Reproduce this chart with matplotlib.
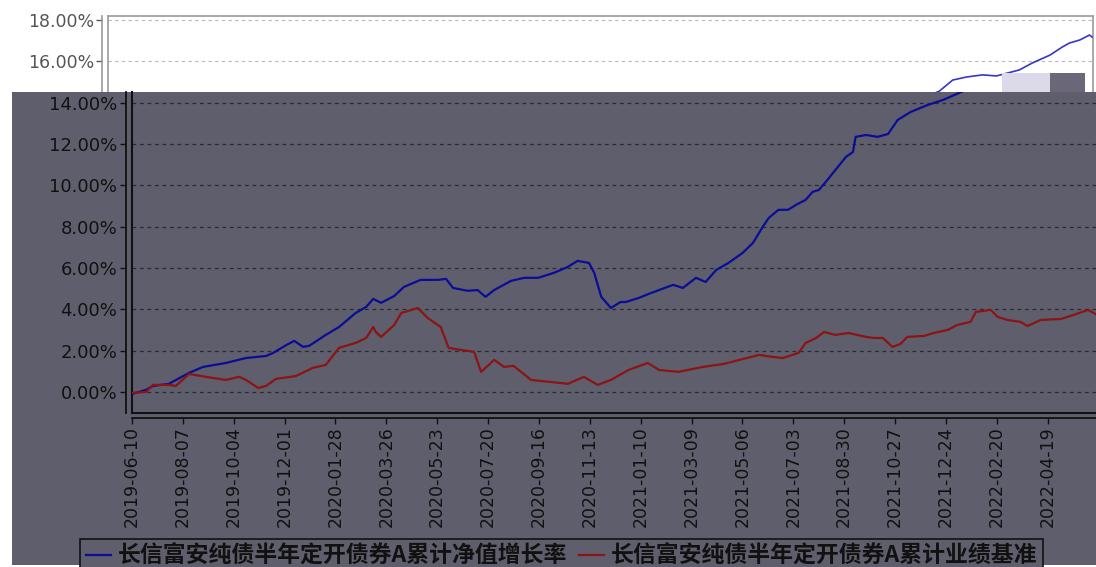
import matplotlib
matplotlib.use("Agg")
import matplotlib.pyplot as plt
import matplotlib.dates as mdates
from matplotlib.patches import Rectangle
from matplotlib.lines import Line2D
import pandas as pd

plt.rcParams['font.family'] = ['DejaVu Sans', 'Noto Sans CJK SC']

# ---------------- data ----------------
nav_dates = ["2019-06-10", "2019-06-26", "2019-07-04", "2019-07-22", "2019-08-14", "2019-08-30",
             "2019-09-25", "2019-10-18", "2019-11-10", "2019-11-18", "2019-12-03", "2019-12-12",
             "2019-12-22", "2019-12-29", "2020-01-17", "2020-02-01", "2020-02-20", "2020-03-03",
             "2020-03-11", "2020-03-20", "2020-04-04", "2020-04-15", "2020-05-04", "2020-05-24",
             "2020-06-02", "2020-06-10", "2020-06-27", "2020-07-08", "2020-07-17", "2020-07-27",
             "2020-08-15", "2020-08-30", "2020-09-15", "2020-10-03", "2020-10-19", "2020-10-30",
             "2020-11-12", "2020-11-18", "2020-11-26", "2020-12-07", "2020-12-18", "2020-12-24",
             "2021-01-08", "2021-01-19", "2021-01-31", "2021-02-16", "2021-02-27", "2021-03-14",
             "2021-03-25", "2021-04-06", "2021-04-20", "2021-05-06", "2021-05-18", "2021-05-29",
             "2021-06-05", "2021-06-16", "2021-06-27", "2021-07-06", "2021-07-17", "2021-07-25",
             "2021-08-01", "2021-08-09", "2021-08-20", "2021-09-01", "2021-09-09", "2021-09-12",
             "2021-09-24", "2021-10-07", "2021-10-19", "2021-10-30", "2021-11-14", "2021-12-03",
             "2021-12-21", "2022-01-13", "2022-01-28", "2022-02-13", "2022-03-03", "2022-03-19",
             "2022-04-14", "2022-04-29", "2022-05-19", "2022-06-02", "2022-06-10", "2022-06-22",
             "2022-07-03", "2022-07-06"]
nav_growth = [-0.10, 0.10, 0.29, 0.39, 0.92, 1.21,
              1.40, 1.64, 1.74, 1.89, 2.27, 2.47,
              2.18, 2.23, 2.76, 3.14, 3.82, 4.11,
              4.50, 4.31, 4.64, 5.08, 5.42, 5.42,
              5.47, 5.03, 4.89, 4.93, 4.60, 4.93,
              5.37, 5.52, 5.52, 5.76, 6.05, 6.34,
              6.24, 5.76, 4.60, 4.06, 4.35, 4.35,
              4.55, 4.74, 4.93, 5.18, 5.03, 5.52,
              5.32, 5.90, 6.24, 6.72, 7.21, 7.98,
              8.42, 8.81, 8.81, 9.05, 9.29, 9.68,
              9.77, 10.16, 10.74, 11.37, 11.61, 12.34,
              12.43, 12.34, 12.48, 13.16, 13.55, 13.88,
              14.13, 14.56, 15.09, 15.24, 15.34, 15.29,
              15.58, 15.92, 16.30, 16.69, 16.88, 17.03,
              17.27, 17.17]

bench_dates = ["2019-06-10", "2019-06-26", "2019-07-04", "2019-07-22", "2019-07-30", "2019-08-14",
               "2019-09-02", "2019-09-25", "2019-10-10", "2019-10-18", "2019-11-01", "2019-11-10",
               "2019-11-21", "2019-12-14", "2020-01-02", "2020-01-17", "2020-02-01", "2020-02-20",
               "2020-03-03", "2020-03-11", "2020-03-14", "2020-03-20", "2020-04-04", "2020-04-12",
               "2020-05-01", "2020-05-12", "2020-05-27", "2020-06-05", "2020-06-19", "2020-07-04",
               "2020-07-12", "2020-07-27", "2020-08-07", "2020-08-18", "2020-09-07", "2020-09-30",
               "2020-10-19", "2020-11-06", "2020-11-22", "2020-12-07", "2020-12-27", "2021-01-18",
               "2021-01-31", "2021-02-22", "2021-03-22", "2021-04-14", "2021-04-28", "2021-05-25",
               "2021-06-10", "2021-06-21", "2021-07-09", "2021-07-17", "2021-07-29", "2021-08-07",
               "2021-08-20", "2021-09-04", "2021-09-24", "2021-10-03", "2021-10-13", "2021-10-24",
               "2021-11-02", "2021-11-10", "2021-11-29", "2021-12-10", "2021-12-26", "2022-01-06",
               "2022-01-21", "2022-01-27", "2022-02-13", "2022-02-21", "2022-03-04", "2022-03-19",
               "2022-03-27", "2022-04-11", "2022-05-04", "2022-05-19", "2022-06-04", "2022-06-14",
               "2022-06-30", "2022-07-06"]
bench_growth = [-0.05, 0.00, 0.34, 0.34, 0.29, 0.87,
                0.73, 0.58, 0.73, 0.58, 0.19, 0.29,
                0.63, 0.77, 1.16, 1.31, 2.13, 2.37,
                2.61, 3.14, 2.90, 2.66, 3.24, 3.82,
                4.06, 3.58, 3.14, 2.13, 2.03, 1.94,
                0.97, 1.55, 1.21, 1.26, 0.58, 0.48,
                0.39, 0.73, 0.34, 0.58, 1.06, 1.40,
                1.06, 0.97, 1.21, 1.35, 1.50, 1.79,
                1.69, 1.64, 1.89, 2.37, 2.61, 2.90,
                2.76, 2.85, 2.66, 2.61, 2.61, 2.18,
                2.32, 2.66, 2.71, 2.85, 3.00, 3.24,
                3.39, 3.87, 3.97, 3.63, 3.48, 3.39,
                3.19, 3.48, 3.53, 3.73, 3.97, 3.73,
                3.75, 3.78]

y_ticks_top = [16, 18]
y_ticks_low = [0, 2, 4, 6, 8, 10, 12, 14]
tick_start = "2019-06-10"
tick_step_days = 58
n_ticks = 19
series_labels = ["长信富安纯债半年定开债券A累计净值增长率", "长信富安纯债半年定开债券A累计业绩基准"]

# ---------------- figure ----------------
W, H = 1096, 567
fig = plt.figure(figsize=(W / 100, H / 100), dpi=100)
fig.patch.set_facecolor("white")

def px_rect(x0, y0, x1, y1):
    return [x0 / W, 1 - y1 / H, (x1 - x0) / W, (y1 - y0) / H]

def add_block(x0, y0, x1, y1, color, z):
    fig.patches.append(Rectangle((x0 / W, 1 - y1 / H), (x1 - x0) / W, (y1 - y0) / H,
                                 transform=fig.transFigure, facecolor=color,
                                 edgecolor="none", zorder=z))

nd = pd.to_datetime(nav_dates)
bd = pd.to_datetime(bench_dates)
ticks = pd.date_range(tick_start, periods=n_ticks, freq=f"{tick_step_days}D")
x0 = pd.Timestamp("2019-06-10")
x1 = x0 + pd.Timedelta(days=1123)

def pct(v, _=None):
    return f"{v:.2f}%"

# ---- top (white, original) chart ----
axt = fig.add_axes(px_rect(108, 16, 1093, 413))
axt.set_facecolor("white")
axt.plot(nd, nav_growth, color="#3636c8", lw=1.2, zorder=3)
axt.plot(bd, bench_growth, color="#b03030", lw=1.2, zorder=3)
axt.set_xlim(x0, x1)
axt.set_ylim(-1.02, 18.19)
axt.set_yticks(y_ticks_top)
axt.yaxis.set_major_formatter(pct)
axt.set_xticks([])
axt.tick_params(axis="y", labelsize=12.5, colors="#555555", length=4, width=1, pad=2)
axt.grid(axis="y", color="#b8b8b8", ls=(0, (3, 3)), lw=0.8)
for s in ["top", "right"]:
    axt.spines[s].set_color("#999999")
    axt.spines[s].set_linewidth(1.2)
axt.spines["bottom"].set_visible(False)
axt.spines["left"].set_position(("outward", 4))
axt.spines["left"].set_color("#999999")
axt.spines["left"].set_linewidth(1.2)
axt.plot([0, 0], [0, 1], transform=axt.transAxes, color="#999999", lw=1.2, clip_on=False)

# ---- dark overlay and glitch blocks ----
add_block(12, 92, W, 565, "#5f5e6c", 1)
add_block(1002, 73, 1050, 92, "#dcd9e8", 1)
add_block(1050, 73, 1085, 92, "#6a6878", 1)

# ---- lower (shifted, dark) chart ----
axl = fig.add_axes(px_rect(132, 92, 1117, 413))
axl.set_zorder(2)
axl.set_facecolor("none")
axl.plot(nd, nav_growth, color="#0c0c96", lw=1.6, zorder=3)
axl.plot(bd, bench_growth, color="#8c1414", lw=1.6, zorder=3)
axl.set_xlim(x0, x1)
axl.set_ylim(-1.02, 14.51)
axl.set_yticks(y_ticks_low)
axl.yaxis.set_major_formatter(pct)
axl.set_xticks(ticks)
axl.xaxis.set_major_formatter(mdates.DateFormatter("%Y-%m-%d"))
axl.tick_params(axis="y", labelsize=13, colors="#111111", length=4, width=1, pad=2)
axl.tick_params(axis="x", labelsize=12.5, colors="#111111", length=4, width=1,
                rotation=90, pad=2)
axl.grid(axis="y", color="#2a2a30", ls=(0, (3, 3)), lw=0.9)
axl.spines["top"].set_visible(False)
axl.spines["right"].set_visible(False)
axl.spines["left"].set_position(("outward", 4.5))
axl.spines["bottom"].set_position(("outward", 3.5))
for s in ["left", "bottom"]:
    axl.spines[s].set_color("#111111")
    axl.spines[s].set_linewidth(1.3)
axl.plot([0, 0], [0, 1], transform=axl.transAxes, color="#111111", lw=1.5, clip_on=False)
axl.plot([0, 1], [0, 0], transform=axl.transAxes, color="#111111", lw=1.5, clip_on=False)

# ---- legend ----
handles = [Line2D([], [], color="#0c0c96", lw=1.6), Line2D([], [], color="#8c1414", lw=1.6)]
leg = fig.legend(handles, series_labels, ncol=2, loc="upper left",
                 bbox_to_anchor=(80 / W, 1 - 539 / H),
                 prop={"family": ["Noto Sans CJK SC", "DejaVu Sans"], "size": 16.5, "weight": "bold"},
                 frameon=True, fancybox=False, edgecolor="#111111", facecolor="#5f5e6c",
                 framealpha=1, handlelength=1.1, handletextpad=0.3, columnspacing=0.5,
                 borderpad=0.25, borderaxespad=0)
leg.get_frame().set_linewidth(1.2)
leg.set_zorder(5)
for t in leg.get_texts():
    t.set_color("#111111")

fig.savefig("out.png", dpi=100)
